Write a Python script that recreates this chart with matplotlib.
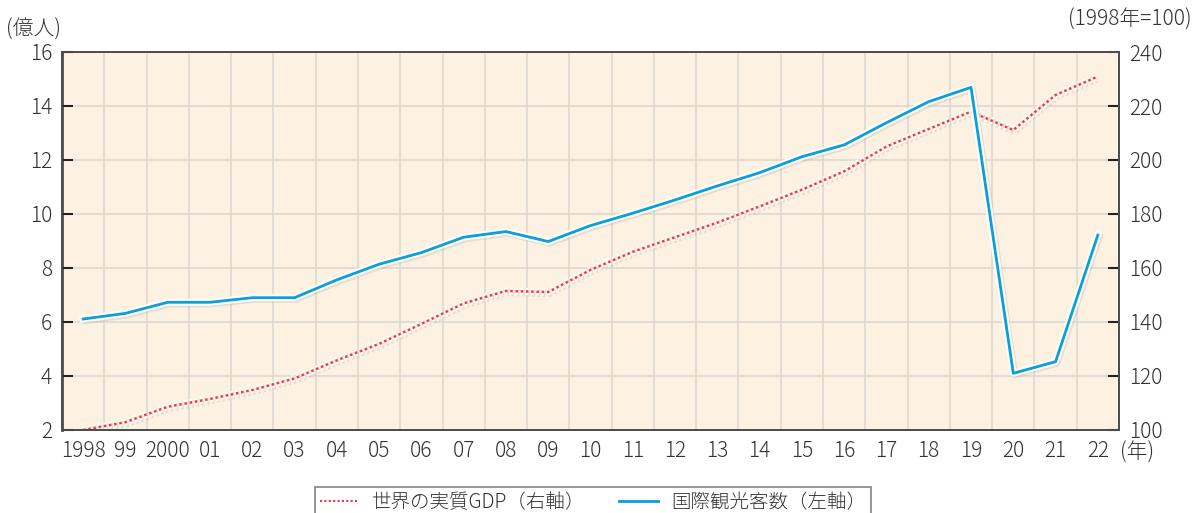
import numpy as np
import matplotlib.pyplot as plt
import matplotlib.patheffects as pe
from matplotlib.lines import Line2D

plt.rcParams['font.family'] = ['Noto Sans CJK JP', 'DejaVu Sans']
plt.rcParams['font.weight'] = 'light'

# data
years = ['1998', '99', '2000', '01', '02', '03', '04', '05', '06', '07', '08', '09',
         '10', '11', '12', '13', '14', '15', '16', '17', '18', '19', '20', '21', '22']
# international tourist arrivals (100 million people), left axis
arrivals = [6.11, 6.32, 6.73, 6.73, 6.90, 6.90, 7.56, 8.14, 8.57, 9.14, 9.35, 8.98,
            9.57, 10.03, 10.52, 11.04, 11.53, 12.12, 12.56, 13.38, 14.16, 14.69,
            4.10, 4.53, 9.22]
# world real GDP (1998 = 100), right axis
gdp = [100.0, 102.9, 108.6, 111.5, 114.8, 119.1, 125.8, 131.9, 139.3, 146.9, 151.5,
       151.1, 159.3, 166.0, 171.4, 176.8, 182.8, 189.0, 195.8, 205.0, 211.5, 217.9,
       211.1, 224.1, 230.9]

blue = '#0a9fd8'
red = '#e83a4c'
bg = '#fdf1e2'
grid_c = '#dcd8d2'
spine_c = '#4d4d4d'
txt_c = '#333333'
fs = 15

x = np.arange(len(years))

fig = plt.figure(figsize=(11.96, 5.13), dpi=100)
ax2 = fig.add_axes([62/1196, 1-430/513, (1119-62)/1196, 378/513])
ax = ax2.twinx()
ax.yaxis.tick_left()
ax2.yaxis.tick_right()
ax.set_zorder(ax2.get_zorder() + 1)
ax.patch.set_visible(False)
ax2.set_facecolor(bg)

halo = [pe.SimpleLineShadow(offset=(1, -1.2), shadow_color='#a89f90', alpha=0.25, linewidth=5),
        pe.Stroke(linewidth=5, foreground='white'), pe.Normal()]

ax2.plot(x, gdp, color=red, linewidth=1.8, linestyle=(0, (1, 1.1)),
         path_effects=halo, solid_capstyle='butt')
ax.plot(x, arrivals, color=blue, linewidth=2.0, path_effects=halo)

# axes ranges
ax.set_ylim(2, 16)
ax2.set_ylim(100, 240)
ax2.set_xlim(-0.5, len(years) - 0.5)
ax.set_yticks(np.arange(2, 17, 2))
ax2.set_yticks(np.arange(100, 241, 20))
ax2.set_xticks(x)
ax2.set_xticklabels(years)

# grid on the back axes
ax2.set_xticks(np.arange(0.5, len(years) - 1, 1), minor=True)
ax2.grid(True, which='minor', axis='x', color=grid_c, linewidth=1.2)
ax2.grid(True, which='major', axis='y', color=grid_c, linewidth=1.2)
ax2.set_axisbelow(True)

ax.tick_params(axis='y', direction='in', length=8, width=1.5, color='#222222',
               labelsize=fs, labelcolor=txt_c, pad=7)
ax2.tick_params(axis='y', direction='in', length=8, width=1.5, color='#222222',
                labelsize=fs, labelcolor=txt_c, pad=7)
ax2.tick_params(axis='x', which='both', length=0, labelsize=fs, labelcolor=txt_c, pad=7)

for a in (ax, ax2):
    for s in a.spines.values():
        s.set_color(spine_c)
        s.set_linewidth(1.3)
ax2.spines['left'].set_linewidth(2)

# unit labels
fig.text(6/1196, 1-30/513, '(億人)', fontsize=fs, color=txt_c, va='center', ha='left')
fig.text(1192/1196, 1-20/513, '(1998年=100)', fontsize=fs, color=txt_c, va='center', ha='right')
fig.text(1120/1196, 1-453/513, '(年)', fontsize=fs, color=txt_c, va='center', ha='left')

# legend
handles = [Line2D([], [], color=red, linewidth=1.5, linestyle=(0, (1, 1.1))),
           Line2D([], [], color=blue, linewidth=2.0)]
labels = ['世界の実質GDP（右軸）', '国際観光客数（左軸）']
leg = fig.legend(handles, labels, loc='upper center', bbox_to_anchor=(593/1196, 1-487/513),
                 ncol=2, fontsize=14, frameon=True, fancybox=False, edgecolor='#666666',
                 handlelength=2.0, columnspacing=1.7, borderpad=0.25, handletextpad=0.7,
                 borderaxespad=0)
leg.get_frame().set_linewidth(1.2)
for t in leg.get_texts():
    t.set_color(txt_c)

fig.savefig('out.png', dpi=100)
